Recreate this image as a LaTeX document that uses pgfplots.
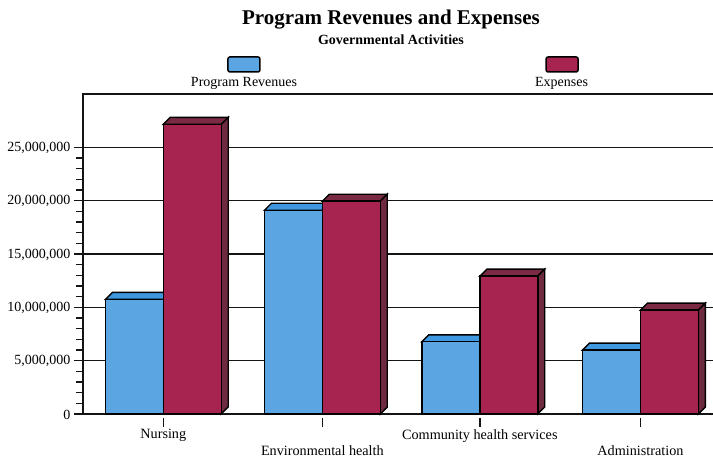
\documentclass[border=0pt]{standalone}
\usepackage{fontspec}
\setmainfont{Liberation Serif}
\usepackage{pgfplots}
\pgfplotsset{compat=1.18}

\definecolor{revfront}{HTML}{5BA6E2}
\definecolor{revtop}{HTML}{3F97DF}
\definecolor{expfront}{HTML}{A82450}
\definecolor{exptop}{HTML}{7A2A42}
\definecolor{expside}{HTML}{6E2A3E}
\definecolor{ink}{HTML}{141414}

% front faces of the bars
\pgfplotstableread{
x     rev       exp
0     10750000  27150000
1     19100000  19950000
1.99  6770000   12920000
3     5990000   9740000
}\spending

\newcommand{\tsize}[2][18]{\fontsize{#2}{#1}\selectfont}

\begin{document}
\begin{tikzpicture}[x=1pt,y=1pt]
\clip[use as bounding box] (0,0) rectangle (713,464);
\begin{axis}[
    at={(83pt,50pt)},
    anchor=south west,
    scale only axis,
    clip=false,
    width=637pt,
    height=320pt,
    xmin=-0.505, xmax=3.5,
    ymin=0, ymax=30000000,
    axis line style={ink,line width=1.5pt},
    xtick={0,1,1.99,3},
    xticklabels={Nursing,{\strut\\Environmental health},Community health services,{\strut\\Administration}},
    xticklabel style={align=center,font=\tsize[15.5]{14.2},anchor=north,yshift=-3pt},
    x tick style={yshift=-4pt},
    ytick={0,5000000,10000000,15000000,20000000,25000000},
    minor y tick num=4,
    scaled y ticks=false,
    yticklabel style={font=\tsize{14},yshift=-0.7pt,
        /pgf/number format/fixed,
        /pgf/number format/1000 sep={,},
        /pgf/number format/assume math mode=true},
    xtick pos=bottom, ytick pos=left,
    tick align=outside,
    major tick length=9pt,
    minor tick length=7pt,
    tick style={ink,line width=1.5pt},
    ymajorgrids,
    major grid style={ink,line width=1.5pt},
    title={Program Revenues and Expenses},
    title style={at={(axis description cs:0.4835,1.2125)},anchor=center,
        font=\tsize{21}\bfseries},
    legend columns=2,
    legend style={at={(axis description cs:0.1695,1.0345)},anchor=west,
        draw=none,fill=none,inner sep=0pt,outer sep=0pt,
        font=\tsize{14},
        nodes={inner sep=0pt},
        /tikz/every even column/.append style={column sep=238pt}},
]
% blue tops
\addplot[forget plot,fill=revtop,draw=black,line width=1.4pt] coordinates {(-0.364,10750000) (-0.32,11405000) (0.044,11405000) (0,10750000)} -- cycle;
\addplot[forget plot,fill=revtop,draw=black,line width=1.4pt] coordinates {(0.636,19100000) (0.68,19755000) (1.044,19755000) (1,19100000)} -- cycle;
\addplot[forget plot,fill=revtop,draw=black,line width=1.4pt] coordinates {(1.626,6770000) (1.67,7425000) (2.034,7425000) (1.99,6770000)} -- cycle;
\addplot[forget plot,fill=revtop,draw=black,line width=1.4pt] coordinates {(2.636,5990000) (2.68,6645000) (3.044,6645000) (3,5990000)} -- cycle;
% blue fronts
\addplot[ybar,bar width=58pt,bar shift=-29pt,fill=revfront,draw=black,line width=1.4pt,
    legend image code/.code={\draw[overlay,fill=revfront,draw=black,line width=1.5pt,rounded corners=2pt] (37pt,11pt) rectangle (69pt,26pt);}]
    table[x=x,y=rev] {\spending};
\addlegendentry{Program Revenues}
% red tops and sides
\addplot[forget plot,fill=exptop,draw=black,line width=1.4pt] coordinates {(0,27150000) (0.044,27805000) (0.408,27805000) (0.364,27150000)} -- cycle;
\addplot[forget plot,fill=expside,draw=black,line width=1.4pt] coordinates {(0.364,0) (0.408,655000) (0.408,27805000) (0.364,27150000)} -- cycle;
\addplot[forget plot,fill=exptop,draw=black,line width=1.4pt] coordinates {(1,19950000) (1.044,20605000) (1.408,20605000) (1.364,19950000)} -- cycle;
\addplot[forget plot,fill=expside,draw=black,line width=1.4pt] coordinates {(1.364,0) (1.408,655000) (1.408,20605000) (1.364,19950000)} -- cycle;
\addplot[forget plot,fill=exptop,draw=black,line width=1.4pt] coordinates {(1.99,12920000) (2.034,13575000) (2.398,13575000) (2.354,12920000)} -- cycle;
\addplot[forget plot,fill=expside,draw=black,line width=1.4pt] coordinates {(2.354,0) (2.398,655000) (2.398,13575000) (2.354,12920000)} -- cycle;
\addplot[forget plot,fill=exptop,draw=black,line width=1.4pt] coordinates {(3,9740000) (3.044,10395000) (3.408,10395000) (3.364,9740000)} -- cycle;
\addplot[forget plot,fill=expside,draw=black,line width=1.4pt] coordinates {(3.364,0) (3.408,655000) (3.408,10395000) (3.364,9740000)} -- cycle;
% red fronts
\addplot[ybar,bar width=58pt,bar shift=29pt,fill=expfront,draw=black,line width=1.4pt,
    legend image code/.code={\draw[overlay,fill=expfront,draw=black,line width=1.5pt,rounded corners=2pt] (11pt,11pt) rectangle (43pt,26pt);}]
    table[x=x,y=exp] {\spending};
\addlegendentry{Expenses}
\node[font=\tsize{14}\bfseries,anchor=center] at (axis description cs:0.4835,1.169) {Governmental Activities};
\end{axis}
\end{tikzpicture}
\end{document}
